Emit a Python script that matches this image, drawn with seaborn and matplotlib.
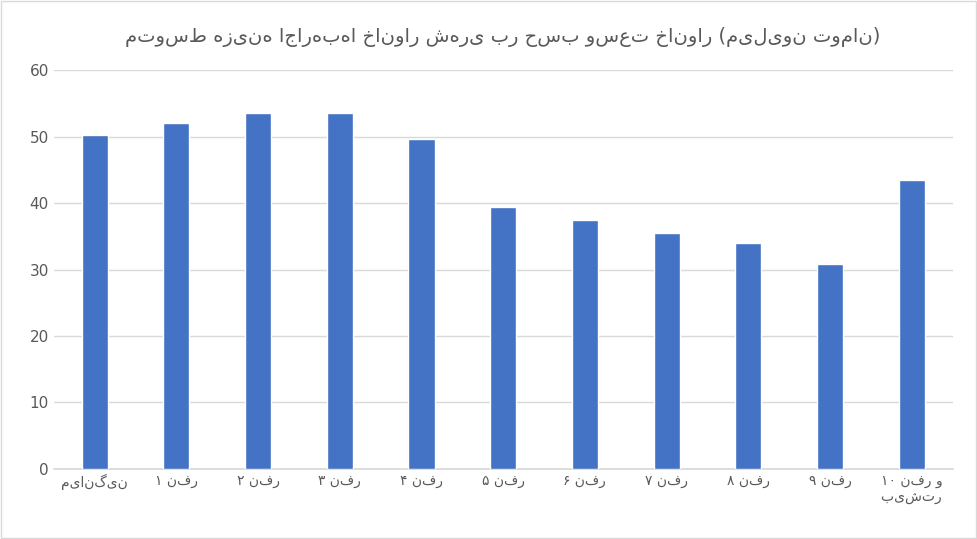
import matplotlib
matplotlib.use("Agg")
import matplotlib.pyplot as plt
import seaborn as sns
import pandas as pd

categories = ["میانگین", "۱ نفر", "۲ نفر", "۳ نفر", "۴ نفر", "۵ نفر", "۶ نفر", "۷ نفر", "۸ نفر", "۹ نفر", "۱۰ نفر و\nبیش‌تر"]
values = [50.2, 52.1, 53.5, 53.6, 49.7, 39.4, 37.5, 35.5, 34.0, 30.9, 43.4]
title = "متوسط هزینه اجاره‌بها خانوار شهری بر حسب وسعت خانوار (میلیون تومان)"

df = pd.DataFrame({"cat": categories, "val": values})

sns.set_theme(style="white")
plt.rcParams["font.family"] = ["DejaVu Sans"]
fig, ax = plt.subplots(figsize=(9.77, 5.39), dpi=100)
fig.subplots_adjust(left=0.055, right=0.975, top=0.87, bottom=0.13)
sns.barplot(data=df, x="cat", y="val", color="#4472C4", width=0.32, saturation=1, ax=ax, zorder=3)
ax.set_ylim(0, 60)
ax.set_yticks(range(0, 61, 10))
ax.yaxis.grid(True, color="#D9D9D9", linewidth=1, zorder=0)
for s in ["top", "right", "left"]:
    ax.spines[s].set_visible(False)
ax.spines["bottom"].set_color("#D9D9D9")
ax.tick_params(axis="both", length=0, labelsize=10, colors="#595959")
ax.tick_params(axis="y", labelsize=11)
ax.set_xlabel(""); ax.set_ylabel("")
ax.set_title(title, fontsize=14, color="#595959", pad=20)
fig.patches.append(plt.Rectangle((0.001, 0.001), 0.998, 0.997, transform=fig.transFigure, fill=False, edgecolor="#D9D9D9", linewidth=1))
fig.savefig("out.png", dpi=100)
